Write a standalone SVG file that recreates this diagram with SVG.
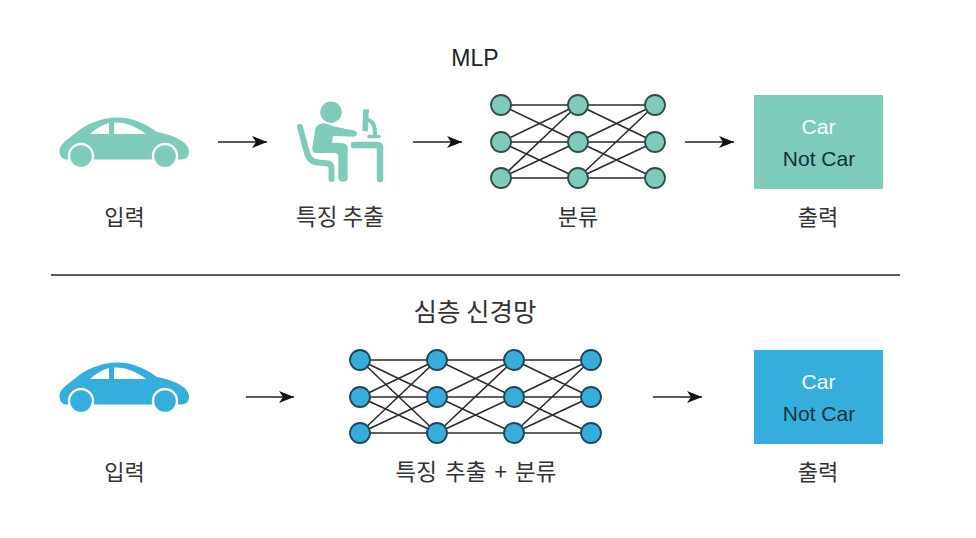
<svg xmlns="http://www.w3.org/2000/svg" width="976" height="538" viewBox="0 0 976 538">
<style>
text{font-family:"Liberation Sans","Noto Sans CJK KR",sans-serif;fill:#222;text-anchor:middle}
.ko{font-family:"Noto Sans CJK KR","Liberation Sans",sans-serif;font-size:22px;font-weight:400;fill:#333}
.lat{font-size:21px}
.edge{stroke:#2b2b2b;stroke-width:1.6;fill:none}
.arrow{stroke:#222;stroke-width:1.6;fill:none;marker-end:url(#head)}
.t{fill:#7fcbbb}
.b{fill:#36aedb}
.tn{fill:#7fcbbb;stroke:#2c4f4c;stroke-width:1.8}
.bn{fill:#36aedb;stroke:#1f4558;stroke-width:1.8}
.ring{stroke:#fff;stroke-width:2.4}
.win{fill:#fff}
.ps{stroke:#7fcbbb;fill:none;stroke-linecap:round;stroke-linejoin:round}
</style>
<defs>
<marker id="head" markerUnits="userSpaceOnUse" markerWidth="17" markerHeight="13" refX="15" refY="6.500" orient="auto">
<path d="M0,0.500 L15,6.500 L0,12.500 L4,6.500 Z" fill="#111"/>
</marker>
<g id="car">
<path d="M59.500,150 C60,145 65,141 73,135 C84,125 100,117.500 118,117.500 C134,117.500 147,125 157,132 C172,135 189,141 189,152 C189,157 186,159.500 180,159.500 L66,159.500 C62,159.500 59,155 59.500,150 Z"/>
<circle class="ring" cx="81" cy="156" r="12"/>
<circle class="ring" cx="165" cy="156" r="12"/>
<path class="win" d="M90,134 C95,129 102,125 109,123 L109,134 Z"/>
<path class="win" d="M114,122.500 C126,122 137,127 146,134 L114,134 Z"/>
</g>
</defs>
<rect width="976" height="538" fill="#fff"/>

<g id="title-mlp"><text x="475" y="66" style="font-size:23px">MLP</text></g>
<g id="title-deep"><text class="ko" x="475" y="321" style="font-size:25.500px">심층 신경망</text></g>
<line id="divider" x1="51" y1="275" x2="900" y2="275" stroke="#222" stroke-width="1.400"/>

<g id="connectors">
<path class="arrow" d="M218,142H267"/>
<path class="arrow" d="M413,142H462"/>
<path class="arrow" d="M685,142H734"/>
<path class="arrow" d="M246,397H294"/>
<path class="arrow" d="M653,397H702"/>
<g id="mlp-edges">
<path class="edge" d="M501,105L578,105M501,105L578,142M501,142L578,105M501,142L578,142M501,142L578,178M501,178L578,105M501,178L578,142M501,178L578,178"/>
<path class="edge" d="M578,105L655,105M578,105L655,142M578,142L655,105M578,142L655,142M578,142L655,178M578,178L655,105M578,178L655,142M578,178L655,178"/>
</g>
<g id="deep-edges">
<path class="edge" d="M360,360L437,360M360,360L437,397M360,360L437,433M360,397L437,360M360,397L437,397M360,397L437,433M360,433L437,360M360,433L437,397M360,433L437,433"/>
<path class="edge" d="M437,360L514,360M437,360L514,397M437,397L514,360M437,397L514,397M437,397L514,433M437,433L514,360M437,433L514,397M437,433L514,433"/>
<path class="edge" d="M514,360L591,360M514,360L591,397M514,397L591,360M514,397L591,397M514,397L591,433M514,433L591,360M514,433L591,397M514,433L591,433"/>
</g>
</g>

<g id="input-mlp">
<use href="#car" class="t"/>
<text class="ko" x="124.500" y="225">입력</text>
</g>

<g id="feature-extract">
<circle cx="331" cy="112.300" r="10.700" class="t"/>
<path class="t" d="M320,124 C324,122 329,124 332,126 L354,130.500 C358,131.500 358,136 354,136.800 L333,136 L332,142.700 L341,143 C345,143 347.700,145 347.700,149 L347.700,178 C347.700,183 338.300,183 338.300,178 L338.300,157 C338.300,154 337,153 335,153 L317,153 C313,153 312,151 312.300,148 L315,130 C316,127 317,125 320,124 Z"/>
<path class="ps" stroke-width="6" d="M300,127 L306.500,151 C308,158 311,162 318,162.500 L328,163.500 C330.500,164 331.500,165.500 331.500,168 L331.500,179"/>
<path class="ps" stroke-width="6.500" d="M354,145 L377,145 C379,145 380,146 380,148 L380,179"/>
<path class="t" d="M363.300,109.300 L369,109.300 L367.700,131.700 L362.300,130.700 Z"/>
<path class="ps" stroke-width="4" d="M368,120 C373,121 375,125 375,134"/>
<path class="ps" stroke-width="3.500" d="M369,136.500 L379,136.500"/>
<text class="ko" x="340" y="225" style="font-size:22.500px">특징 추출</text>
</g>

<g id="classifier-mlp">
<g class="tn">
<circle cx="501" cy="105" r="10"/><circle cx="501" cy="142" r="10"/><circle cx="501" cy="178" r="10"/>
<circle cx="578" cy="105" r="10"/><circle cx="578" cy="142" r="10"/><circle cx="578" cy="178" r="10"/>
<circle cx="655" cy="105" r="10"/><circle cx="655" cy="142" r="10"/><circle cx="655" cy="178" r="10"/>
</g>
<text class="ko" x="578" y="225">분류</text>
</g>

<g id="output-mlp">
<rect x="754" y="95" width="129" height="94" class="t"/>
<text class="lat" x="818.500" y="134" style="fill:#fff">Car</text>
<text class="lat" x="819" y="166" style="fill:#12303a">Not Car</text>
<text class="ko" x="818" y="225">출력</text>
</g>

<g id="input-deep">
<use href="#car" class="b" y="245"/>
<text class="ko" x="124.500" y="480">입력</text>
</g>

<g id="network-deep">
<g class="bn">
<circle cx="360" cy="360" r="10"/><circle cx="360" cy="397" r="10"/><circle cx="360" cy="433" r="10"/>
<circle cx="437" cy="360" r="10"/><circle cx="437" cy="397" r="10"/><circle cx="437" cy="433" r="10"/>
<circle cx="514" cy="360" r="10"/><circle cx="514" cy="397" r="10"/><circle cx="514" cy="433" r="10"/>
<circle cx="591" cy="360" r="10"/><circle cx="591" cy="397" r="10"/><circle cx="591" cy="433" r="10"/>
</g>
<text class="ko" x="476" y="480" style="font-size:22.500px;word-spacing:3px">특징 추출 + 분류</text>
</g>

<g id="output-deep">
<rect x="754" y="350" width="129" height="94" class="b"/>
<text class="lat" x="818.500" y="389" style="fill:#fff">Car</text>
<text class="lat" x="819" y="421" style="fill:#12303a">Not Car</text>
<text class="ko" x="818" y="480">출력</text>
</g>
</svg>
